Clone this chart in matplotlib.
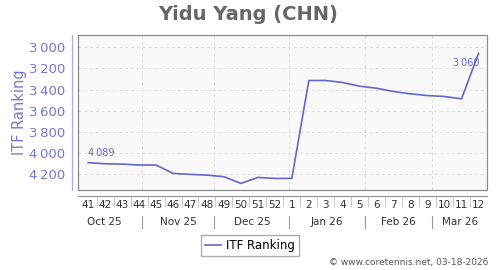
import numpy as np
import pandas as pd
import matplotlib
matplotlib.use('Agg')
import matplotlib.pyplot as plt
from matplotlib.patches import Rectangle
import matplotlib.transforms as mtransforms

# data
weeks = ['41', '42', '43', '44', '45', '46', '47', '48', '49', '50', '51', '52',
         '1', '2', '3', '4', '5', '6', '7', '8', '9', '10', '11', '12']
ranking = [4089, 4100, 4103, 4112, 4112, 4191, 4200, 4207, 4222, 4285, 4229, 4238,
           4238, 3315, 3315, 3334, 3369, 3388, 3419, 3441, 3457, 3466, 3488, 3060]
months = ['Oct 25', 'Nov 25', 'Dec 25', 'Jan 26', 'Feb 26', 'Mar 26']
month_starts = ['2025-10-01', '2025-11-01', '2025-12-01', '2026-01-01', '2026-02-01', '2026-03-01']
yticks = [3000, 3200, 3400, 3600, 3800, 4000, 4200]

line_col = '#6666cc'
tick_col = '#7777cc'

x = np.arange(len(weeks))

# month positions in week units (first point sits on 10 Oct 2025)
first_day = pd.Timestamp('2025-10-10')
starts = [(pd.Timestamp(d) - first_day).days / 7 for d in month_starts]
bounds = starts + [len(weeks) - 0.5]

fig = plt.figure(figsize=(5, 2.7), dpi=100)
ax = fig.add_axes([0.156, 0.296, 0.818, 0.574])
ax.set_facecolor('#f9f9f9')

ax.plot(x, ranking, color=line_col, lw=1.2, zorder=3)
ax.set_xlim(-0.6, len(weeks) - 0.5)
ax.set_ylim(4348, 2887)

# grid
for yv in yticks:
    ax.axhline(yv, color='#dddddd', lw=0.7, ls=(0, (3, 3)), zorder=1)
for b in starts[1:]:
    ax.axvline(b, color='#dddddd', lw=0.7, ls=(0, (3, 3)), zorder=1)

# frame + separate axis lines
ax.add_patch(Rectangle((0, 0), 1, 1, transform=ax.transAxes, fill=False,
                       ec='#8a8a8a', lw=0.9, clip_on=False, zorder=4))
ax.spines['top'].set_visible(False)
ax.spines['right'].set_visible(False)
ax.spines['left'].set_position(('outward', 4))
ax.spines['left'].set_color('#aaaadd')
ax.spines['left'].set_linewidth(0.9)
ax.spines['bottom'].set_position(('outward', 4))
ax.spines['bottom'].set_color('#999999')
ax.spines['bottom'].set_linewidth(0.9)

ax.set_yticks(yticks)
ax.set_yticklabels([f'{v:,}'.replace(',', '\u2009') for v in yticks])
ax.tick_params(axis='y', length=0, pad=5, labelsize=9.5, labelcolor=tick_col)

ax.set_xticks(x)
ax.set_xticklabels(weeks)
ax.set_xticks(x[:-1] + 0.5, minor=True)
ax.tick_params(axis='x', which='major', length=0, pad=3, labelsize=7.5, labelcolor='#333333')
ax.tick_params(axis='x', which='minor', length=8, width=0.8, color='#cccccc')

ax.set_ylabel('ITF Ranking', color=tick_col, fontsize=10.5, labelpad=1.5)

# month labels and separators
trans = mtransforms.blended_transform_factory(ax.transData, ax.transAxes)
for i, m in enumerate(months):
    c = (bounds[i] + bounds[i + 1]) / 2
    ax.text(c, -0.205, m, transform=trans, ha='center', va='center',
            fontsize=7.5, color='#333333')
for b in starts[1:]:
    ax.plot([b, b], [-0.17, -0.245], transform=trans, color='#999999',
            lw=0.8, clip_on=False)

# first / last value labels
ax.annotate(f'{ranking[0]:,}'.replace(',', '\u2009'), (x[0], ranking[0]),
            xytext=(0, 3), textcoords='offset points', ha='left', va='bottom',
            fontsize=7, color=line_col)
ax.annotate(f'{ranking[-1]:,}'.replace(',', '\u2009'), (x[-1], ranking[-1]),
            xytext=(1, -3), textcoords='offset points', ha='right', va='top',
            fontsize=7, color=line_col)

fig.text(0.497, 0.948, 'Yidu Yang (CHN)', ha='center', va='center',
         fontsize=14, fontweight='bold', color='#666666')

ax.legend(['ITF Ranking'], loc='center', bbox_to_anchor=(0.5, 0.092),
          bbox_transform=fig.transFigure, fontsize=8.5, frameon=True,
          fancybox=False, edgecolor='#999999', handlelength=1.4,
          handletextpad=0.4, borderpad=0.35, borderaxespad=0)

fig.text(0.976, 0.027, '\u00a9 www.coretennis.net, 03-18-2026', ha='right',
         va='center', fontsize=6.5, color='#555555')

fig.savefig('out.png', dpi=100, facecolor='white')
